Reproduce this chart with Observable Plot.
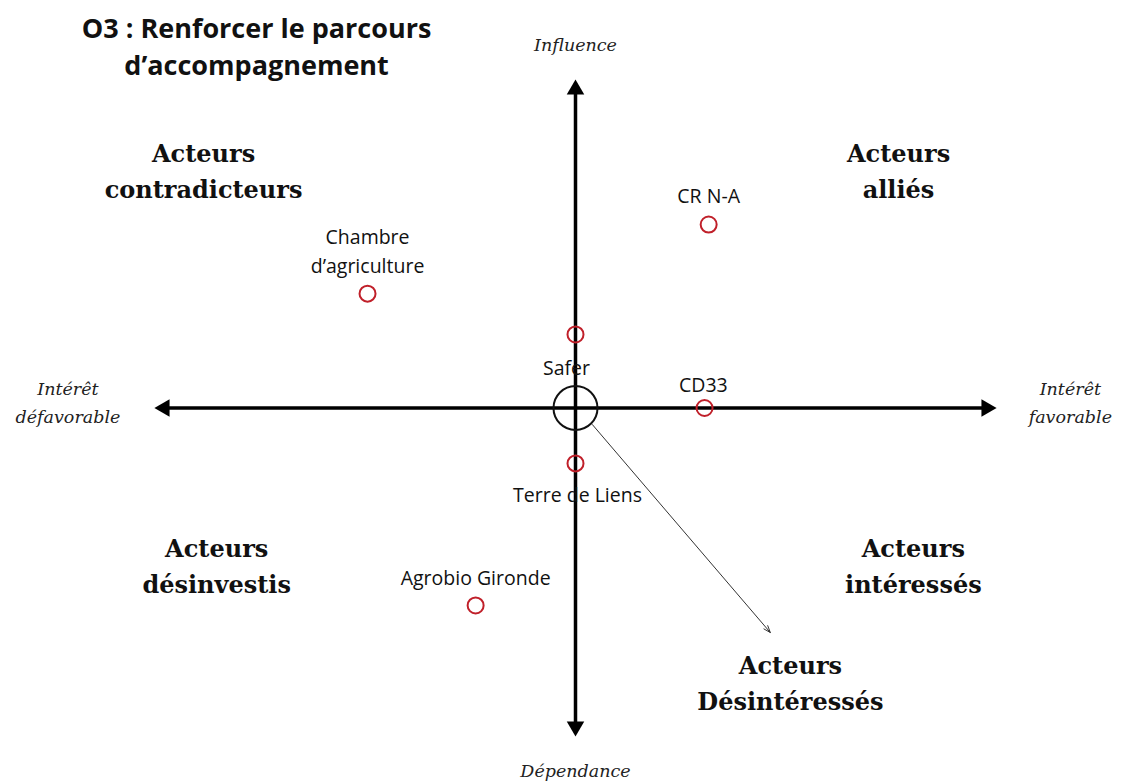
<!DOCTYPE html>
<html>
<head>
<meta charset="utf-8">
<script src="https://cdn.jsdelivr.net/npm/d3@7"></script>
<script src="https://cdn.jsdelivr.net/npm/@observablehq/plot@0.6"></script>
<style>
  html, body { margin: 0; padding: 0; background: #fff; }
  #chart svg { display: block; }
</style>
</head>
<body>
<div id="chart"></div>
<script>
// Stakeholders (interest on x, influence on y)
const actors = ["CR N-A", "Chambre d’agriculture", "Safer", "CD33", "Terre de Liens", "Agrobio Gironde"];
const interest = [3.24, -5.06, 0, 3.14, 0, -2.43];
const influence = [5.76, 3.59, 2.31, 0, -1.74, -6.20];
const labelText = ["CR N-A", "Chambre\nd’agriculture", "Safer", "CD33", "Terre de Liens", "Agrobio Gironde"];
const labelX = [3.24, -5.06, -0.22, 3.11, 0.05, -2.43];
const labelY = [6.73, 4.98, 1.33, 0.80, -2.65, -5.26];

// Quadrant titles
const quadText = ["Acteurs\ncontradicteurs", "Acteurs\nalliés", "Acteurs\ndésinvestis", "Acteurs\nintéressés", "Acteurs\nDésintéressés"];
const quadX = [-9.05, 7.86, -8.73, 8.22, 5.23];
const quadY = [7.52, 7.52, -4.88, -4.88, -8.56];

// Axis names
const axisText = ["Influence", "Dépendance", "Intérêt\ndéfavorable", "Intérêt\nfavorable"];
const axisX = [0, 0, -12.35, 12.04];
const axisY = [11.48, -11.30, 0.24, 0.24];

// Axis ends
const axisEndX = [10, -10, 0, 0];
const axisEndY = [0, 0, 10, -10];
const axisEndRot = [90, -90, 0, 180];

const title = "O3 : Renforcer le parcours\nd’accompagnement";

const points = actors.map((a, i) => ({actor: a, x: interest[i], y: influence[i]}));
const labels = labelText.map((t, i) => ({t, x: labelX[i], y: labelY[i]}));
const quads = quadText.map((t, i) => ({t, x: quadX[i], y: quadY[i]}));
const axisNames = axisText.map((t, i) => ({t, x: axisX[i], y: axisY[i]}));
const ends = axisEndX.map((x, i) => ({x, y: axisEndY[i], r: axisEndRot[i]}));

const chart = Plot.plot({
  width: 1122,
  height: 782,
  marginLeft: 164,
  marginRight: 136,
  marginTop: 89,
  marginBottom: 56,
  x: {domain: [-10, 10], axis: null},
  y: {domain: [-10, 10], axis: null},
  style: {background: "#fff", overflow: "visible"},
  marks: [
    // axes
    Plot.link(ends, {x1: 0, y1: 0, x2: "x", y2: "y", stroke: "#000", strokeWidth: 3.5}),
    Plot.dot(ends, {x: "x", y: "y", symbol: "triangle", r: 6.5, fill: "#000", stroke: "none", rotate: "r"}),
    // centre circle
    Plot.dot([{x: 0, y: 0}], {x: "x", y: "y", r: 22, stroke: "#111", strokeWidth: 2, fill: "none"}),
    // thin arrow to "Désintéressés"
    Plot.arrow([{x1: 0.41, y1: -0.52, x2: 4.74, y2: -7.05}], {x1: "x1", y1: "y1", x2: "x2", y2: "y2", stroke: "#333", strokeWidth: 1, headLength: 11, headAngle: 40}),
    // actors
    Plot.dot(points, {x: "x", y: "y", r: 8, stroke: "#c0202a", strokeWidth: 2, fill: "none"}),
    Plot.text(labels, {x: "x", y: "y", text: "t", fontFamily: "Open Sans", fontSize: 19.5, fill: "#111", lineHeight: 1.48}),
    // quadrant titles
    Plot.text(quads, {x: "x", y: "y", text: "t", fontFamily: "DejaVu Serif", fontWeight: "bold", fontSize: 24, fill: "#111", lineHeight: 1.5}),
    // axis names
    Plot.text(axisNames, {x: "x", y: "y", text: "t", fontFamily: "DejaVu Serif", fontStyle: "italic", fontSize: 17.5, fill: "#222", lineHeight: 1.6}),
    // title
    Plot.text([{t: title, x: -7.76, y: 11.42}], {x: "x", y: "y", text: "t", fontFamily: "Open Sans", fontWeight: "bold", fontSize: 27, fill: "#111", lineHeight: 1.37})
  ]
});
document.getElementById("chart").append(chart);
</script>
</body>
</html>
